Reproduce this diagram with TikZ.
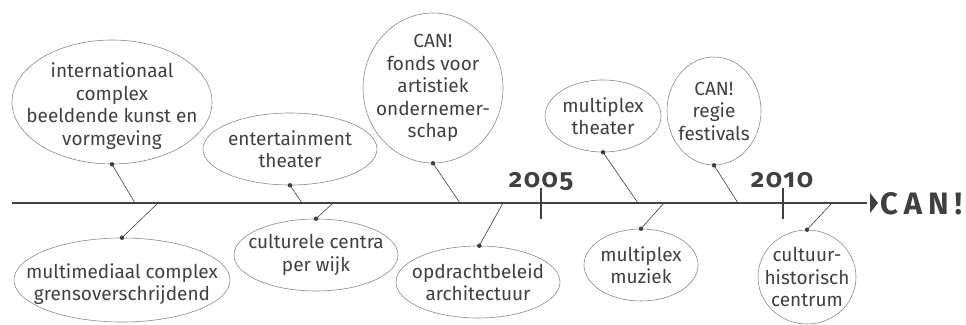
\documentclass[tikz,border=0pt]{standalone}
\usepackage{fontspec}
\setmainfont{Fira Sans}
\usetikzlibrary{shapes.geometric}
\definecolor{ink}{HTML}{404040}
\definecolor{rim}{HTML}{8A8A8A}
\begin{document}
\begin{tikzpicture}[x=1pt, y=-1pt,
  bubble/.style={draw=rim, line width=.6pt, ellipse, inner sep=0pt},
  txt/.style={text=ink, align=center, font=\fontsize{19}{22.5}\selectfont},
  pin/.style={fill=ink, circle, minimum size=4.5pt, inner sep=0pt},
  stem/.style={draw=ink, line width=.6pt},
  year/.style={text=ink, font=\fontsize{26}{26}\selectfont\bfseries\addfontfeature{Numbers=OldStyle,LetterSpace=6}}]
\useasboundingbox (0,0) rectangle (966,324);
% time axis
\coordinate (start) at (12,203);
\coordinate (end) at (867,203);
\draw[ink, line width=1.2pt] (start) -- (end);
\fill[ink] (870,193) -- (878,203) -- (870,213) -- cycle;
\node[anchor=west, text=ink, inner sep=0pt, font=\fontsize{31}{31}\selectfont\bfseries\addfontfeature{LetterSpace=19}] (can) at (880,204) {CAN!};
\draw[ink, line width=1.2pt] (541,188) coordinate (y5a) -- (541,219) coordinate (y5b);
\node[year, anchor=base, inner sep=0pt] (y2005) at (541,187) {2005};
\draw[ink, line width=1.2pt] (783,188) coordinate (y10a) -- (783,219) coordinate (y10b);
\node[year, anchor=base, inner sep=0pt] (y2010) at (782,187) {2010};
% points on the axis
\coordinate (t1) at (135,203);
\coordinate (t2) at (158,203);
\coordinate (t3) at (302,203);
\coordinate (t4) at (333,203);
\coordinate (t5) at (460,203);
\coordinate (t6) at (503,203);
\coordinate (t7) at (638,203);
\coordinate (t8) at (664,203);
\coordinate (t9) at (738,203);
\coordinate (t10) at (832,203);
% bubbles above
\node[bubble, minimum width=200pt, minimum height=124pt, label={[txt,yshift=-4pt]center:internationaal\\complex\\beeldende kunst en\\vormgeving}] (intl) at (112,102) {};
\node[bubble, minimum width=174pt, minimum height=72pt, label={[txt]center:entertainment\\theater}] (ent) at (290,149) {};
\node[bubble, minimum width=140pt, minimum height=150pt, label={[txt]center:CAN!\\fonds voor\\artistiek\\ondernemer-\\schap}] (fonds) at (433,88) {};
\node[bubble, minimum width=116pt, minimum height=72pt, label={[txt]center:multiplex\\theater}] (mth) at (603,116) {};
\node[bubble, minimum width=94pt, minimum height=108pt, label={[txt]center:CAN!\\regie\\festivals}] (regie) at (714,111) {};
% bubbles below
\node[bubble, minimum width=216pt, minimum height=84pt, label={[txt,yshift=-4pt]center:multimediaal complex\\grensoverschrijdend}] (multi) at (122,280) {};
\node[bubble, minimum width=164pt, minimum height=72pt, label={[txt]center:culturele centra\\per wijk}] (cult) at (316,255) {};
\node[bubble, minimum width=164pt, minimum height=72pt, label={[txt]center:opdrachtbeleid\\architectuur}] (opdr) at (478,282) {};
\node[bubble, minimum width=114pt, minimum height=72pt, label={[txt]center:multiplex\\muziek}] (mmz) at (641,265) {};
\node[bubble, minimum width=98pt, minimum height=94pt, label={[txt]center:cultuur-\\historisch\\centrum}] (hist) at (807,277) {};
% stems
\draw[stem] (intl.south) node[pin]{} -- (t1);
\draw[stem] (multi.north) node[pin]{} -- (t2);
\draw[stem] (ent.south) node[pin]{} -- (t3);
\draw[stem] (cult.north) node[pin]{} -- (t4);
\draw[stem] (fonds.south) node[pin]{} -- (t5);
\draw[stem] (opdr.-272) node[pin]{} -- (t6);
\draw[stem] (mth.south) node[pin]{} -- (t7);
\draw[stem] (mmz.north) node[pin]{} -- (t8);
\draw[stem] (regie.south) node[pin]{} -- (t9);
\draw[stem] (hist.north) node[pin]{} -- (t10);
\end{tikzpicture}
\end{document}
